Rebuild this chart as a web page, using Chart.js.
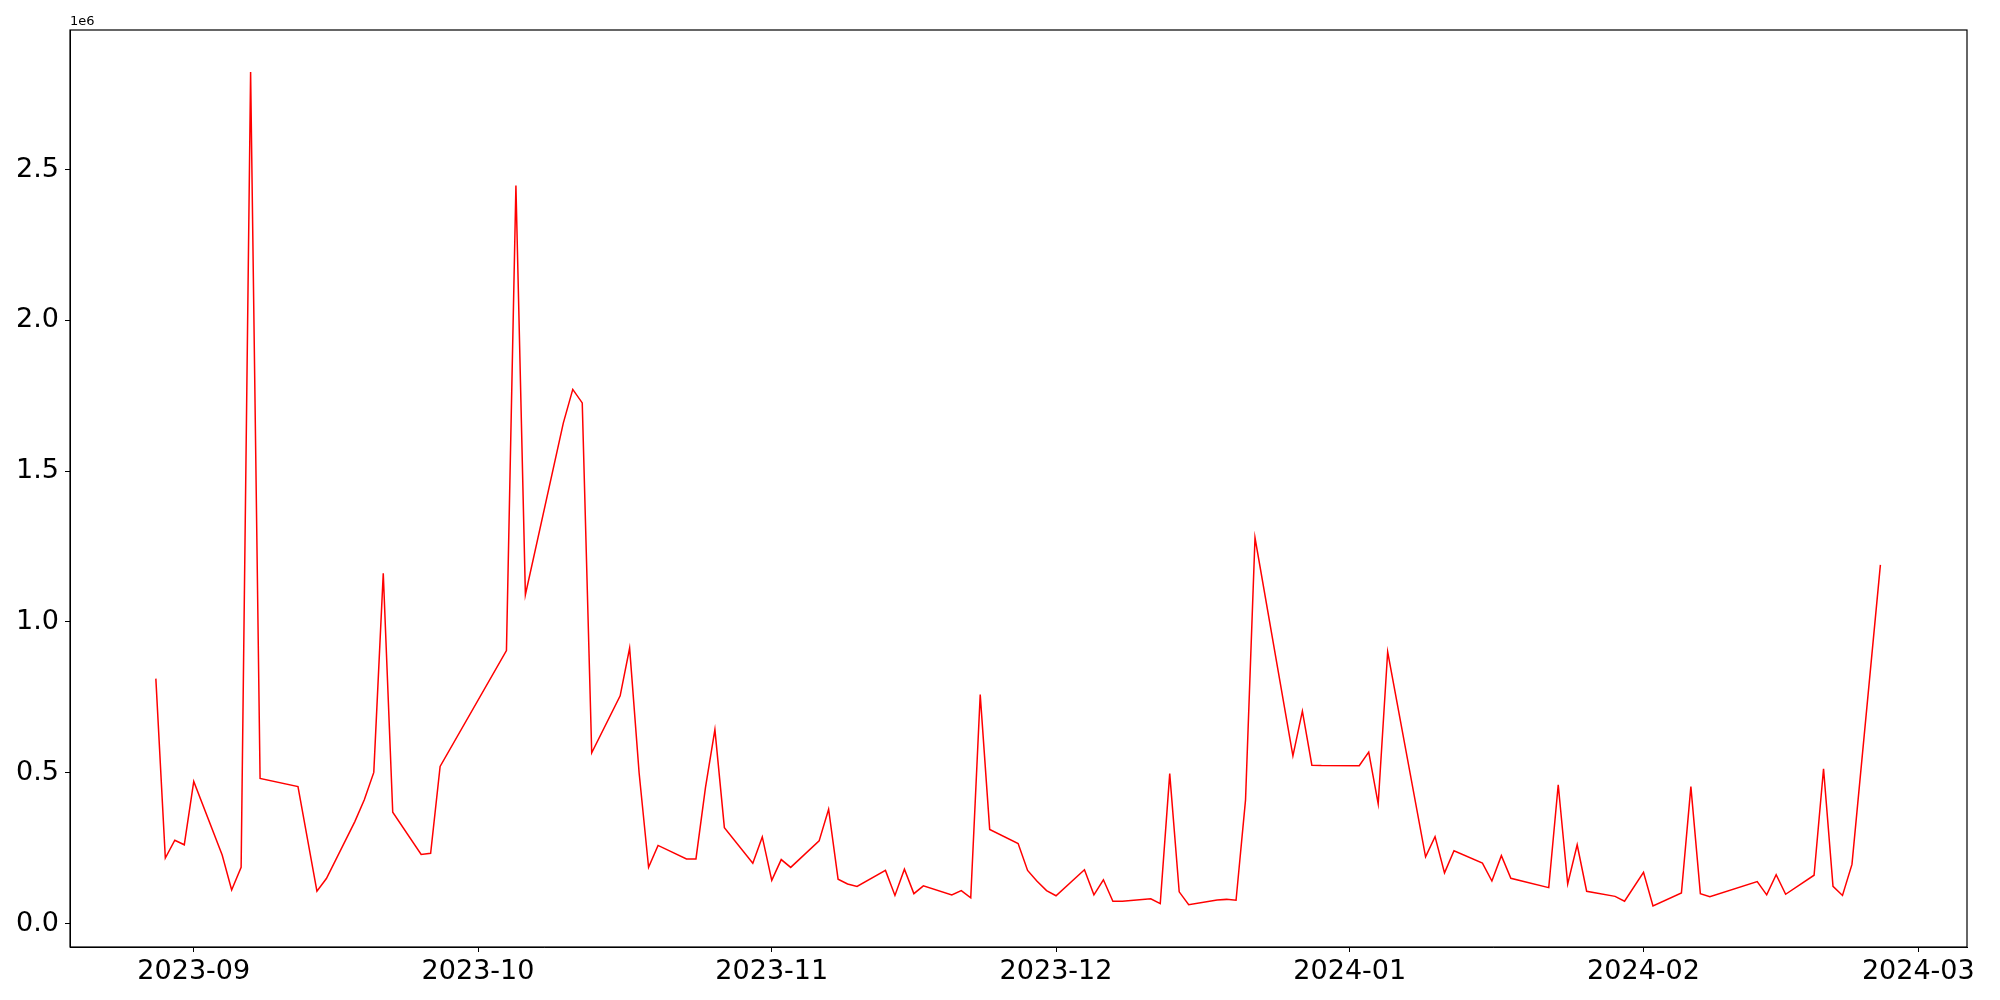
<!DOCTYPE html>
<html>
<head>
<meta charset="utf-8">
<script src="https://cdn.jsdelivr.net/npm/chart.js@4"></script>
<style>
  body { margin: 0; background: #fff; }
  #chart { display: block; }
</style>
</head>
<body>
<canvas id="chart" width="2000" height="1000"></canvas>
<script>
var dates = [
  "2023-08-28","2023-08-29","2023-08-30","2023-08-31","2023-09-01",
  "2023-09-04","2023-09-05","2023-09-06","2023-09-07","2023-09-08",
  "2023-09-12","2023-09-14","2023-09-15","2023-09-18","2023-09-19",
  "2023-09-20","2023-09-21","2023-09-22","2023-09-25","2023-09-26",
  "2023-09-27","2023-10-04","2023-10-05","2023-10-06","2023-10-10",
  "2023-10-11","2023-10-12","2023-10-13","2023-10-16","2023-10-17",
  "2023-10-18","2023-10-19","2023-10-20","2023-10-23","2023-10-24",
  "2023-10-25","2023-10-26","2023-10-27","2023-10-30","2023-10-31",
  "2023-11-01","2023-11-02","2023-11-03","2023-11-06","2023-11-07",
  "2023-11-08","2023-11-09","2023-11-10","2023-11-13","2023-11-14",
  "2023-11-15","2023-11-16","2023-11-17","2023-11-20","2023-11-21",
  "2023-11-22","2023-11-23","2023-11-24","2023-11-27","2023-11-28",
  "2023-11-29","2023-11-30","2023-12-01","2023-12-04","2023-12-05",
  "2023-12-06","2023-12-07","2023-12-08","2023-12-11","2023-12-12",
  "2023-12-13","2023-12-14","2023-12-15","2023-12-18","2023-12-19",
  "2023-12-20","2023-12-21","2023-12-22","2023-12-26","2023-12-27",
  "2023-12-28","2023-12-29","2024-01-02","2024-01-03","2024-01-04",
  "2024-01-05","2024-01-09","2024-01-10","2024-01-11","2024-01-12",
  "2024-01-15","2024-01-16","2024-01-17","2024-01-18","2024-01-22",
  "2024-01-23","2024-01-24","2024-01-25","2024-01-26","2024-01-29",
  "2024-01-30","2024-02-01","2024-02-02","2024-02-05","2024-02-06",
  "2024-02-07","2024-02-08","2024-02-13","2024-02-14","2024-02-15",
  "2024-02-16","2024-02-19","2024-02-20","2024-02-21","2024-02-22",
  "2024-02-23","2024-02-26"
];
var values = [
  812000, 217000, 276000, 261000, 471000,
  227000, 111000, 186000, 2823000, 481000,
  454000, 107000, 149000, 338000, 410000,
  501000, 1161000, 369000, 229000, 233000,
  521000, 905000, 2447000, 1090000, 1659000,
  1771000, 1726000, 566000, 755000, 913000,
  500000, 186000, 259000, 214000, 214000,
  450000, 643000, 318000, 200000, 287000,
  143000, 212000, 186000, 274000, 379000,
  147000, 131000, 123000, 176000, 93000,
  180000, 99000, 125000, 95000, 109000,
  85000, 759000, 312000, 265000, 176000,
  140000, 109000, 92000, 178000, 95000,
  145000, 74000, 74000, 82000, 66000,
  497000, 105000, 62000, 78000, 80000,
  77000, 410000, 1279000, 556000, 704000,
  525000, 524000, 523000, 568000, 397000,
  901000, 221000, 288000, 168000, 241000,
  200000, 141000, 225000, 150000, 119000,
  460000, 131000, 261000, 107000, 90000,
  74000, 170000, 58000, 101000, 454000,
  99000, 89000, 139000, 95000, 162000,
  97000, 160000, 513000, 123000, 93000,
  196000, 1189000
];
var monthTicks = ["2023-09-01","2023-10-01","2023-11-01","2023-12-01","2024-01-01","2024-02-01","2024-03-01"];
var monthLabels = ["2023-09","2023-10","2023-11","2023-12","2024-01","2024-02","2024-03"];
var yTicks = [0, 500000, 1000000, 1500000, 2000000, 2500000];

// days since 2023-09-01, used as a plain linear x scale
var base = Date.UTC(2023, 8, 1);
function toDay(s) {
  var p = s.split("-");
  return (Date.UTC(+p[0], +p[1] - 1, +p[2]) - base) / 86400000;
}

var points = [];
for (var i = 0; i < dates.length; i++) {
  points.push({x: toDay(dates[i]), y: values[i]});
}
var tickDays = monthTicks.map(toDay);

var frame = {
  id: "frame",
  afterDraw: function(chart) {
    var a = chart.chartArea, ctx = chart.ctx;
    ctx.save();
    ctx.strokeStyle = "#000";
    ctx.lineWidth = 1.2;
    ctx.strokeRect(a.left, a.top, a.right - a.left, a.bottom - a.top);
    ctx.fillStyle = "#000";
    ctx.font = "13px 'DejaVu Sans'";
    ctx.textBaseline = "bottom";
    ctx.fillText("1e6", a.left, a.top - 2);
    ctx.restore();
  }
};

var tickFont = {family: "DejaVu Sans", size: 27};

new Chart(document.getElementById("chart"), {
  type: "line",
  data: {
    datasets: [{
      data: points,
      borderColor: "#ff0000",
      borderWidth: 1.5,
      pointRadius: 0,
      tension: 0,
      fill: false
    }]
  },
  options: {
    responsive: false,
    animation: false,
    layout: { padding: { top: 30, right: 33, left: 0, bottom: 0 } },
    plugins: { legend: { display: false }, tooltip: { enabled: false } },
    scales: {
      x: {
        type: "linear",
        min: -13.06,
        max: 187.14,
        afterBuildTicks: function(axis) {
          axis.ticks = tickDays.map(function(d) { return {value: d}; });
        },
        afterFit: function(axis) { axis.height = 53; },
        ticks: {
          autoSkip: false,
          maxRotation: 0,
          color: "#000",
          font: tickFont,
          padding: 4,
          callback: function(v) {
            var k = tickDays.indexOf(v);
            return k >= 0 ? monthLabels[k] : "";
          }
        },
        grid: { drawOnChartArea: false, drawTicks: true, tickLength: 5, color: "#000" },
        border: { display: true, color: "#000" }
      },
      y: {
        min: -77900,
        max: 2962500,
        afterBuildTicks: function(axis) {
          axis.ticks = yTicks.map(function(v) { return {value: v}; });
        },
        afterFit: function(axis) { axis.width = 70; },
        ticks: {
          color: "#000",
          font: tickFont,
          padding: 6,
          callback: function(v) { return (v / 1e6).toFixed(1); }
        },
        grid: { drawOnChartArea: false, drawTicks: true, tickLength: 5, color: "#000" },
        border: { display: true, color: "#000" }
      }
    }
  },
  plugins: [frame]
});
</script>
</body>
</html>
